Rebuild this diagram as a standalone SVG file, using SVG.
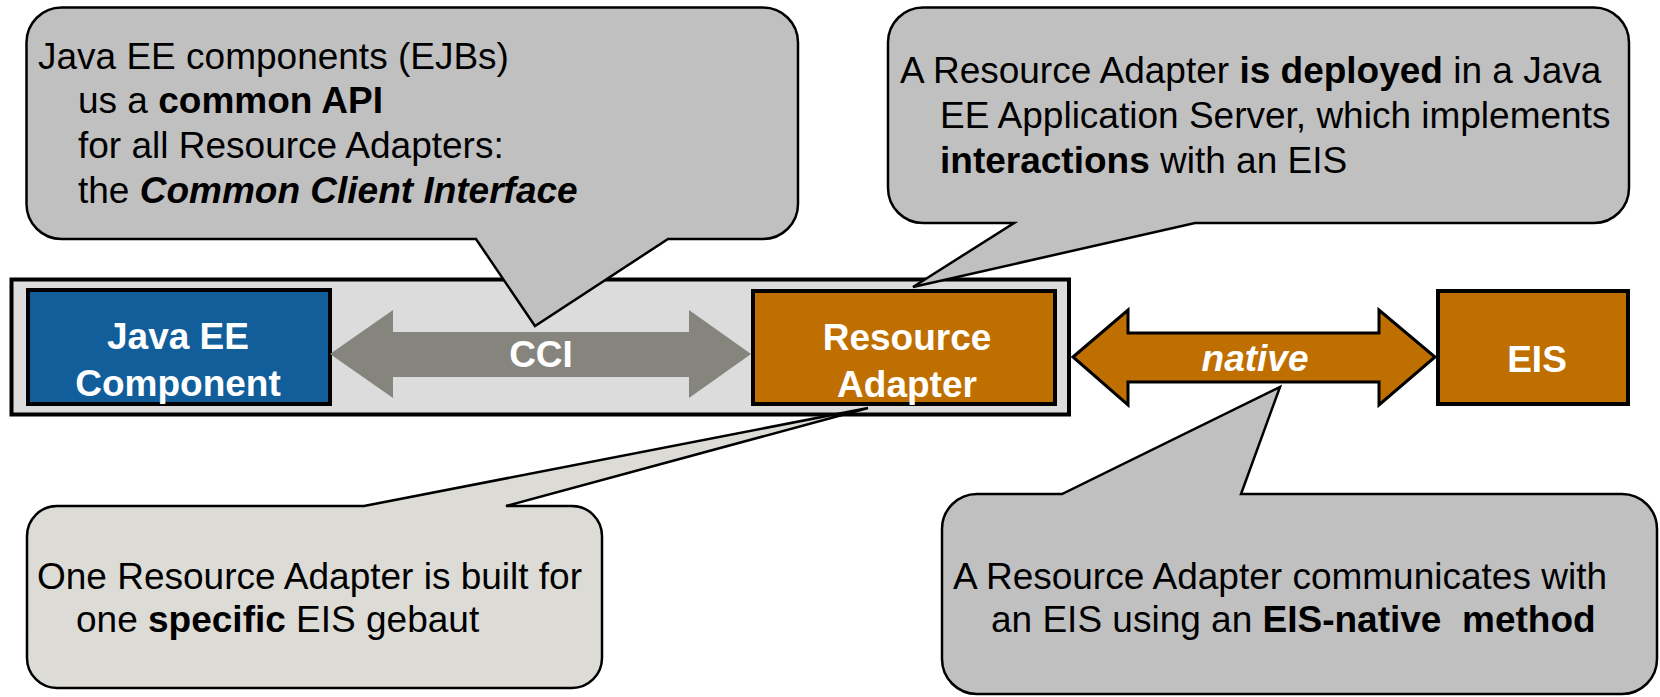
<svg xmlns="http://www.w3.org/2000/svg" width="1660" height="697" viewBox="0 0 1660 697">
<defs>
<style>
.txt{font-family:"Liberation Sans",Arial,sans-serif;font-size:37px;fill:#000;white-space:pre}
.b{font-weight:bold}
.bi{font-weight:bold;font-style:italic}
.lbl{font-family:"Liberation Sans",Arial,sans-serif;font-size:37px;font-weight:bold;fill:#fff;text-anchor:middle}
.box{stroke:#000;stroke-width:4}
.orange{fill:#bf6f00}
.callout{fill:#c0c0c0;stroke:#000;stroke-width:2.5;stroke-linejoin:miter}
.callout-light{fill:#dcdbd6;stroke:#000;stroke-width:2.5}
</style>
</defs>
<rect width="1660" height="697" fill="#fff"/>
<g id="server-frame">
<rect x="11.5" y="279.5" width="1057.5" height="135" fill="#dcdcdc" stroke="#000" stroke-width="4"/>
</g>
<g id="javaee-component">
<rect class="box" x="28" y="290" width="302" height="114" fill="#115e9b"/>
<text class="lbl" x="178" y="349">Java EE</text>
<text class="lbl" x="178" y="396">Component</text>
</g>
<g id="resource-adapter">
<rect class="box orange" x="753" y="291" width="302" height="113"/>
<text class="lbl" x="907" y="350">Resource</text>
<text class="lbl" x="907" y="397">Adapter</text>
</g>
<g id="eis">
<rect class="box orange" x="1438" y="291" width="190" height="113"/>
<text class="lbl" x="1537" y="372">EIS</text>
</g>
<g id="connectors">
<g id="cci-arrow">
<polygon points="330,354 393,310 393,332 689,332 689,310 751,354 689,398 689,377 393,377 393,398" fill="#85857e"/>
<text class="lbl" x="541" y="367">CCI</text>
</g>
<g id="native-arrow">
<polygon points="1073,357 1128,310 1128,333 1379,333 1379,310 1435,357 1379,405 1379,382 1128,382 1128,405" fill="#bf6f00" stroke="#000" stroke-width="3"/>
<text class="lbl" x="1255" y="371" font-style="italic">native</text>
</g>
</g>
<g id="callout-cci">
<path class="callout" d="M 61.5 7.5 H 763 A 35 35 0 0 1 798 42.5 V 204 A 35 35 0 0 1 763 239 H 668 L 535 326 L 476 239 H 61.5 A 35 35 0 0 1 26.5 204 V 42.5 A 35 35 0 0 1 61.5 7.5 Z"/>
<text class="txt" x="38" y="69">Java EE components (EJBs)</text>
<text class="txt" x="78" y="113">us a <tspan class="b">common API</tspan></text>
<text class="txt" x="78" y="158">for all Resource Adapters:</text>
<text class="txt" x="78" y="203">the <tspan class="bi">Common Client Interface</tspan></text>
</g>
<g id="callout-deployed">
<path class="callout" d="M 923 7.5 H 1594 A 35 35 0 0 1 1629 42.5 V 188 A 35 35 0 0 1 1594 223 H 1195 L 913 287 L 1014 223 H 923 A 35 35 0 0 1 888 188 V 42.5 A 35 35 0 0 1 923 7.5 Z"/>
<text class="txt" x="900" y="83">A Resource Adapter <tspan class="b">is deployed</tspan> in a Java</text>
<text class="txt" x="940" y="128">EE Application Server, which implements</text>
<text class="txt" x="940" y="173"><tspan class="b">interactions</tspan> with an EIS</text>
</g>
<g id="callout-specific">
<path class="callout-light" d="M 57 506 H 364 L 868 408 L 506 506 H 572 A 30 30 0 0 1 602 536 V 658 A 30 30 0 0 1 572 688 H 57 A 30 30 0 0 1 27 658 V 536 A 30 30 0 0 1 57 506 Z"/>
<text class="txt" x="37" y="589">One Resource Adapter is built for</text>
<text class="txt" x="76" y="632">one <tspan class="b">specific</tspan> EIS gebaut</text>
</g>
<g id="callout-native">
<path class="callout" d="M 977 494 H 1062 L 1280 387 L 1241 494 H 1622 A 35 35 0 0 1 1657 529 V 659 A 35 35 0 0 1 1622 694 H 977 A 35 35 0 0 1 942 659 V 529 A 35 35 0 0 1 977 494 Z"/>
<text class="txt" x="953" y="589">A Resource Adapter communicates with</text>
<text class="txt" x="991" y="632">an EIS using an <tspan class="b">EIS-native  method</tspan></text>
</g>
</svg>
